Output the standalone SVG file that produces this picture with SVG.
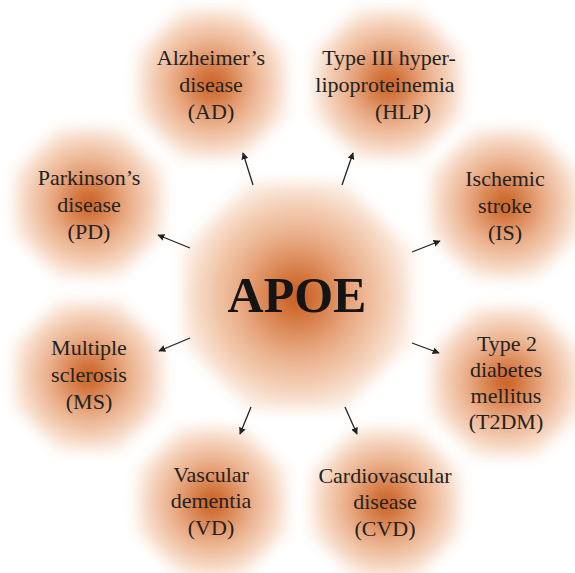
<svg xmlns="http://www.w3.org/2000/svg" xmlns:xlink="http://www.w3.org/1999/xlink" width="575" height="573" viewBox="0 0 575 573">
<style>
  .lbl{font-family:"Liberation Serif","Times New Roman",serif;font-size:22px;fill:#222;text-anchor:middle}
  .main{font-family:"Liberation Serif","Times New Roman",serif;font-size:50px;font-weight:bold;fill:#141414;text-anchor:middle}
  .arr{stroke:#222;stroke-width:1.3;fill:none;marker-end:url(#ah)}
</style>
<defs>
  <radialGradient id="g">
    <stop offset="0" stop-color="#c55616"/>
    <stop offset="0.25" stop-color="#d8804a"/>
    <stop offset="0.55" stop-color="#ebb08c"/>
    <stop offset="0.8" stop-color="#f4cfb6"/>
    <stop offset="1" stop-color="#fbebe0"/>
  </radialGradient>
  <filter id="soft" x="-25%" y="-25%" width="150%" height="150%">
    <feGaussianBlur stdDeviation="7"/>
  </filter>
  <polygon id="oct" points="75,31 31,75 -31,75 -75,31 -75,-31 -31,-75 31,-75 75,-31" fill="url(#g)" filter="url(#soft)"/>
  <polygon id="octc" points="114,47 47,114 -47,114 -114,47 -114,-47 -47,-114 47,-114 114,-47" fill="url(#g)" filter="url(#soft)"/>
  <marker id="ah" viewBox="0 0 10 10" refX="9" refY="5" markerWidth="7" markerHeight="7" markerUnits="userSpaceOnUse" orient="auto">
    <path d="M0,0 L10,5 L0,10 z" fill="#222"/>
  </marker>
</defs>
<rect width="575" height="573" fill="#fff"/>

<g id="apoe">
  <use xlink:href="#octc" x="297" y="296"/>
  <text class="main" x="297" y="312">APOE</text>
</g>

<g id="ad">
  <use xlink:href="#oct" x="212" y="84"/>
  <text class="lbl" x="211" y="65">Alzheimer’s</text>
  <text class="lbl" x="211" y="92">disease</text>
  <text class="lbl" x="211" y="119">(AD)</text>
</g>

<g id="hlp">
  <use xlink:href="#oct" x="388" y="84"/>
  <text class="lbl" x="389" y="65">Type III hyper-</text>
  <text class="lbl" x="385" y="92">lipoproteinemia</text>
  <text class="lbl" x="403" y="119">(HLP)</text>
</g>

<g id="is">
  <use xlink:href="#oct" x="505" y="204"/>
  <text class="lbl" x="505" y="186">Ischemic</text>
  <text class="lbl" x="505" y="213">stroke</text>
  <text class="lbl" x="505" y="240">(IS)</text>
</g>

<g id="t2dm">
  <use xlink:href="#oct" x="506" y="382"/>
  <text class="lbl" x="507" y="351">Type 2</text>
  <text class="lbl" x="506" y="377">diabetes</text>
  <text class="lbl" x="506" y="403">mellitus</text>
  <text class="lbl" x="506" y="429">(T2DM)</text>
</g>

<g id="cvd">
  <use xlink:href="#oct" x="386" y="503"/>
  <text class="lbl" x="385" y="483">Cardiovascular</text>
  <text class="lbl" x="385" y="509">disease</text>
  <text class="lbl" x="385" y="536">(CVD)</text>
</g>

<g id="vd">
  <use xlink:href="#oct" x="212" y="502"/>
  <text class="lbl" x="211" y="482">Vascular</text>
  <text class="lbl" x="211" y="508">dementia</text>
  <text class="lbl" x="211" y="535">(VD)</text>
</g>

<g id="ms">
  <use xlink:href="#oct" x="89" y="376"/>
  <text class="lbl" x="89" y="355">Multiple</text>
  <text class="lbl" x="89" y="382">sclerosis</text>
  <text class="lbl" x="89" y="409">(MS)</text>
</g>

<g id="pd">
  <use xlink:href="#oct" x="89" y="203"/>
  <text class="lbl" x="89" y="185">Parkinson’s</text>
  <text class="lbl" x="89" y="212">disease</text>
  <text class="lbl" x="89" y="239">(PD)</text>
</g>

<g id="connectors">
  <line class="arr" x1="253" y1="185" x2="243" y2="153"/>
  <line class="arr" x1="342" y1="185" x2="353" y2="153"/>
  <line class="arr" x1="412" y1="252" x2="440" y2="241"/>
  <line class="arr" x1="412" y1="343" x2="439" y2="353"/>
  <line class="arr" x1="345" y1="407" x2="357" y2="434"/>
  <line class="arr" x1="251" y1="407" x2="240" y2="434"/>
  <line class="arr" x1="190" y1="338" x2="159" y2="351"/>
  <line class="arr" x1="190" y1="248" x2="158" y2="235"/>
</g>
</svg>
